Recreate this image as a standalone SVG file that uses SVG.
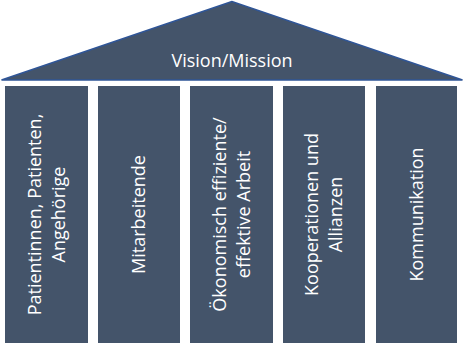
<svg xmlns="http://www.w3.org/2000/svg" width="464" height="344" viewBox="0 0 464 344">
<style>
.p{fill:#44546a}
.t{fill:#fff;font-family:"Open Sans","Liberation Sans",sans-serif;font-size:18px;text-anchor:middle}
</style>
<rect width="464" height="344" fill="#fff"/>
<g id="roof">
<polygon points="232,1.5 1.5,80 462.5,80" fill="#44546a" stroke="#2f5597" stroke-width="1.5" stroke-linejoin="miter"/>
<text class="t" x="232" y="67">Vision/Mission</text>
</g>
<g id="pillar1">
<rect class="p" x="5" y="86" width="83" height="257"/>
<text class="t" transform="translate(46.5,214.5) rotate(-90)"><tspan x="0" y="-6">Patientinnen, Patienten,</tspan><tspan x="0" y="18">Angehörige</tspan></text>
</g>
<g id="pillar2">
<rect class="p" x="98" y="86" width="82" height="257"/>
<text class="t" transform="translate(139,214.5) rotate(-90)" y="6">Mitarbeitende</text>
</g>
<g id="pillar3">
<rect class="p" x="190" y="86" width="83" height="257"/>
<text class="t" transform="translate(231.5,214.5) rotate(-90)"><tspan x="0" y="-6">Ökonomisch effiziente/</tspan><tspan x="0" y="18">effektive Arbeit</tspan></text>
</g>
<g id="pillar4">
<rect class="p" x="283" y="86" width="82" height="257"/>
<text class="t" transform="translate(324,214.5) rotate(-90)"><tspan x="0" y="-6">Kooperationen und</tspan><tspan x="0" y="18">Allianzen</tspan></text>
</g>
<g id="pillar5">
<rect class="p" x="376" y="86" width="81" height="257"/>
<text class="t" transform="translate(416.5,214.5) rotate(-90)" y="6">Kommunikation</text>
</g>
<g id="connectors"/>
</svg>
